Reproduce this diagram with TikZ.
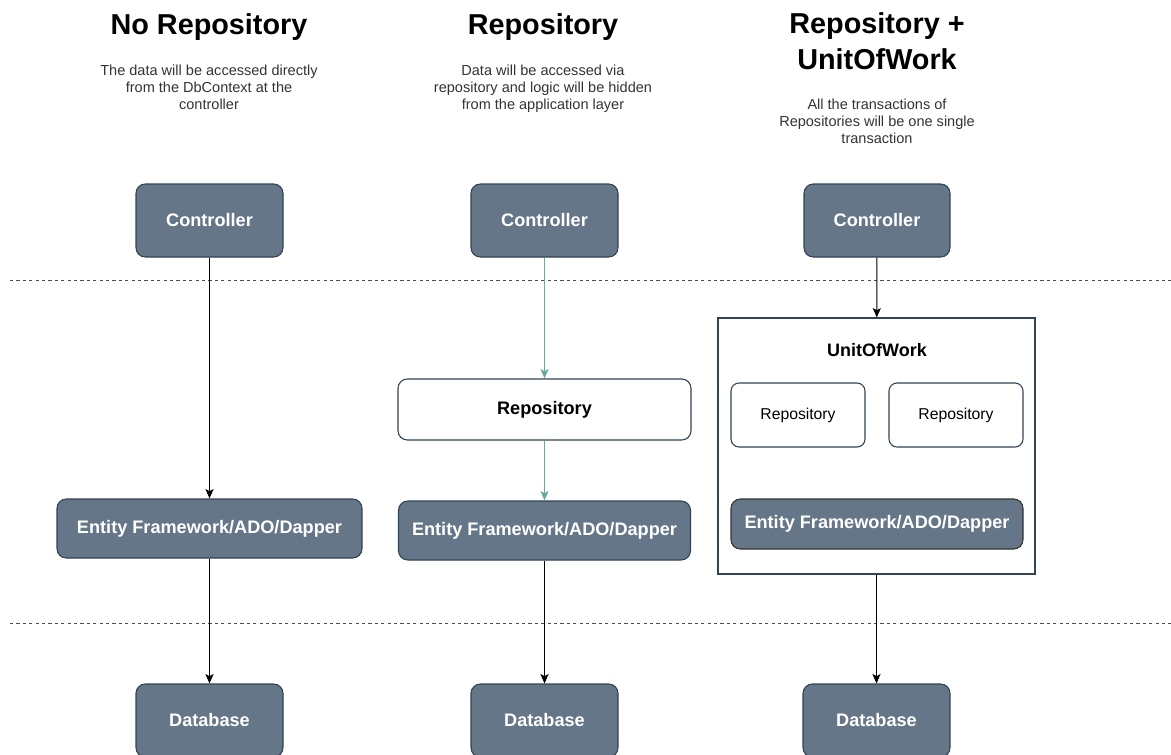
\documentclass[tikz,border=0pt]{standalone}
\usepackage{fontspec}
\setmainfont{Liberation Sans}
\usetikzlibrary{arrows.meta}
\definecolor{slate}{HTML}{647687}
\definecolor{slateline}{HTML}{314354}
\definecolor{repoteal}{HTML}{67AB9F}
\definecolor{notegray}{HTML}{333333}
\tikzset{
  wh/.style n args={2}{minimum width=#1*0.75pt, minimum height=#2*0.75pt},
  box/.style={rectangle, rounded corners=7pt, inner sep=0pt, line width=0.8pt},
  darkbox/.style={box, fill=slate, draw=slateline, text=white,
    font=\fontsize{13.6}{16}\selectfont\bfseries},
  lightbox/.style={box, fill=white, draw=slateline, text=black},
  flow/.style={-{Stealth[length=7pt,width=6pt,inset=1.5pt]}, line width=0.8pt, draw=black},
  tealflow/.style={flow, draw=repoteal},
  layersep/.style={dash pattern=on 2.4pt off 2.4pt, draw=black!70, line width=0.7pt},
  heading/.style={font=\fontsize{21.6}{27}\selectfont\bfseries, align=center, anchor=base, inner sep=0pt},
  note/.style={font=\fontsize{10.9}{12.6}\selectfont, text=notegray, align=center, anchor=base, inner sep=0pt},
}
\begin{document}
\begin{tikzpicture}[x=0.75pt,y=-0.75pt]
\useasboundingbox (0,0) rectangle (1171,754);
\clip (0,0) rectangle (1171,754);

% column headings (anchored at the baseline of their last line)
\node[heading] (h1) at (209,34) {No Repository};
\node[heading] (h2) at (543,34) {Repository};
\node[heading] (h3) at (877,69) {Repository +\\UnitOfWork};

\node[note] (n1) at (209,109.5) {The data will be accessed directly\\from the DbContext at the\\controller};
\node[note] (n2) at (543,109.5) {Data will be accessed via\\repository and logic will be hidden\\from the application layer};
\node[note] (n3) at (877,143.5) {All the transactions of\\Repositories will be one single\\transaction};

% layer separators
\coordinate (s1a) at (10,280);
\coordinate (s1b) at (1171,280);
\coordinate (s2a) at (10,623);
\coordinate (s2b) at (1171,623);
\draw[layersep] (s1a) -- (s1b);
\draw[layersep] (s2a) -- (s2b);

% controllers
\node[darkbox, wh={147}{73}] (c1) at (209.5,220.5) {Controller};
\node[darkbox, wh={147}{73}] (c2) at (544.5,220.5) {Controller};
\node[darkbox, wh={146}{73}] (c3) at (877,220.5) {Controller};

% data access
\node[darkbox, wh={305}{59}] (ef1) at (209.5,528.5) {Entity Framework/ADO/Dapper};
\node[lightbox, wh={293}{61}, font=\fontsize{13.6}{16}\selectfont\bfseries] (repo2) at (544.5,409.5) {Repository};
\node[darkbox, wh={292}{59}] (ef2) at (544.5,530.5) {Entity Framework/ADO/Dapper};

% unit of work container
\node[rectangle, draw=slateline, fill=white, line width=0.8pt, inner sep=0pt, wh={317}{256}] (uow) at (876.5,446) {};
\node[font=\fontsize{13.5}{16}\selectfont\bfseries, inner sep=0pt] (uowlabel) at (877,350) {UnitOfWork};
\node[lightbox, rounded corners=6pt, wh={134}{64}, font=\fontsize{11.8}{14}\selectfont] (r3a) at (798,415) {Repository};
\node[lightbox, rounded corners=6pt, wh={134}{64}, font=\fontsize{11.8}{14}\selectfont] (r3b) at (956,415) {Repository};
\node[darkbox, draw=black!80, wh={292}{50}] (ef3) at (877,524) {Entity Framework/ADO/Dapper};

% databases
\node[darkbox, wh={147}{73}] (db1) at (209.5,720.5) {Database};
\node[darkbox, wh={147}{73}] (db2) at (544.5,720.5) {Database};
\node[darkbox, wh={147}{73}] (db3) at (876.5,720.5) {Database};

% connectors
\draw[flow] (c1) -- (ef1);
\draw[flow] (ef1) -- (db1);
\draw[tealflow] (c2) -- (repo2);
\draw[tealflow] (repo2) -- (ef2);
\draw[flow] (ef2) -- (db2);
\draw[flow] (c3) -- (uow);
\draw[flow] (uow) -- (db3);
\end{tikzpicture}
\end{document}
